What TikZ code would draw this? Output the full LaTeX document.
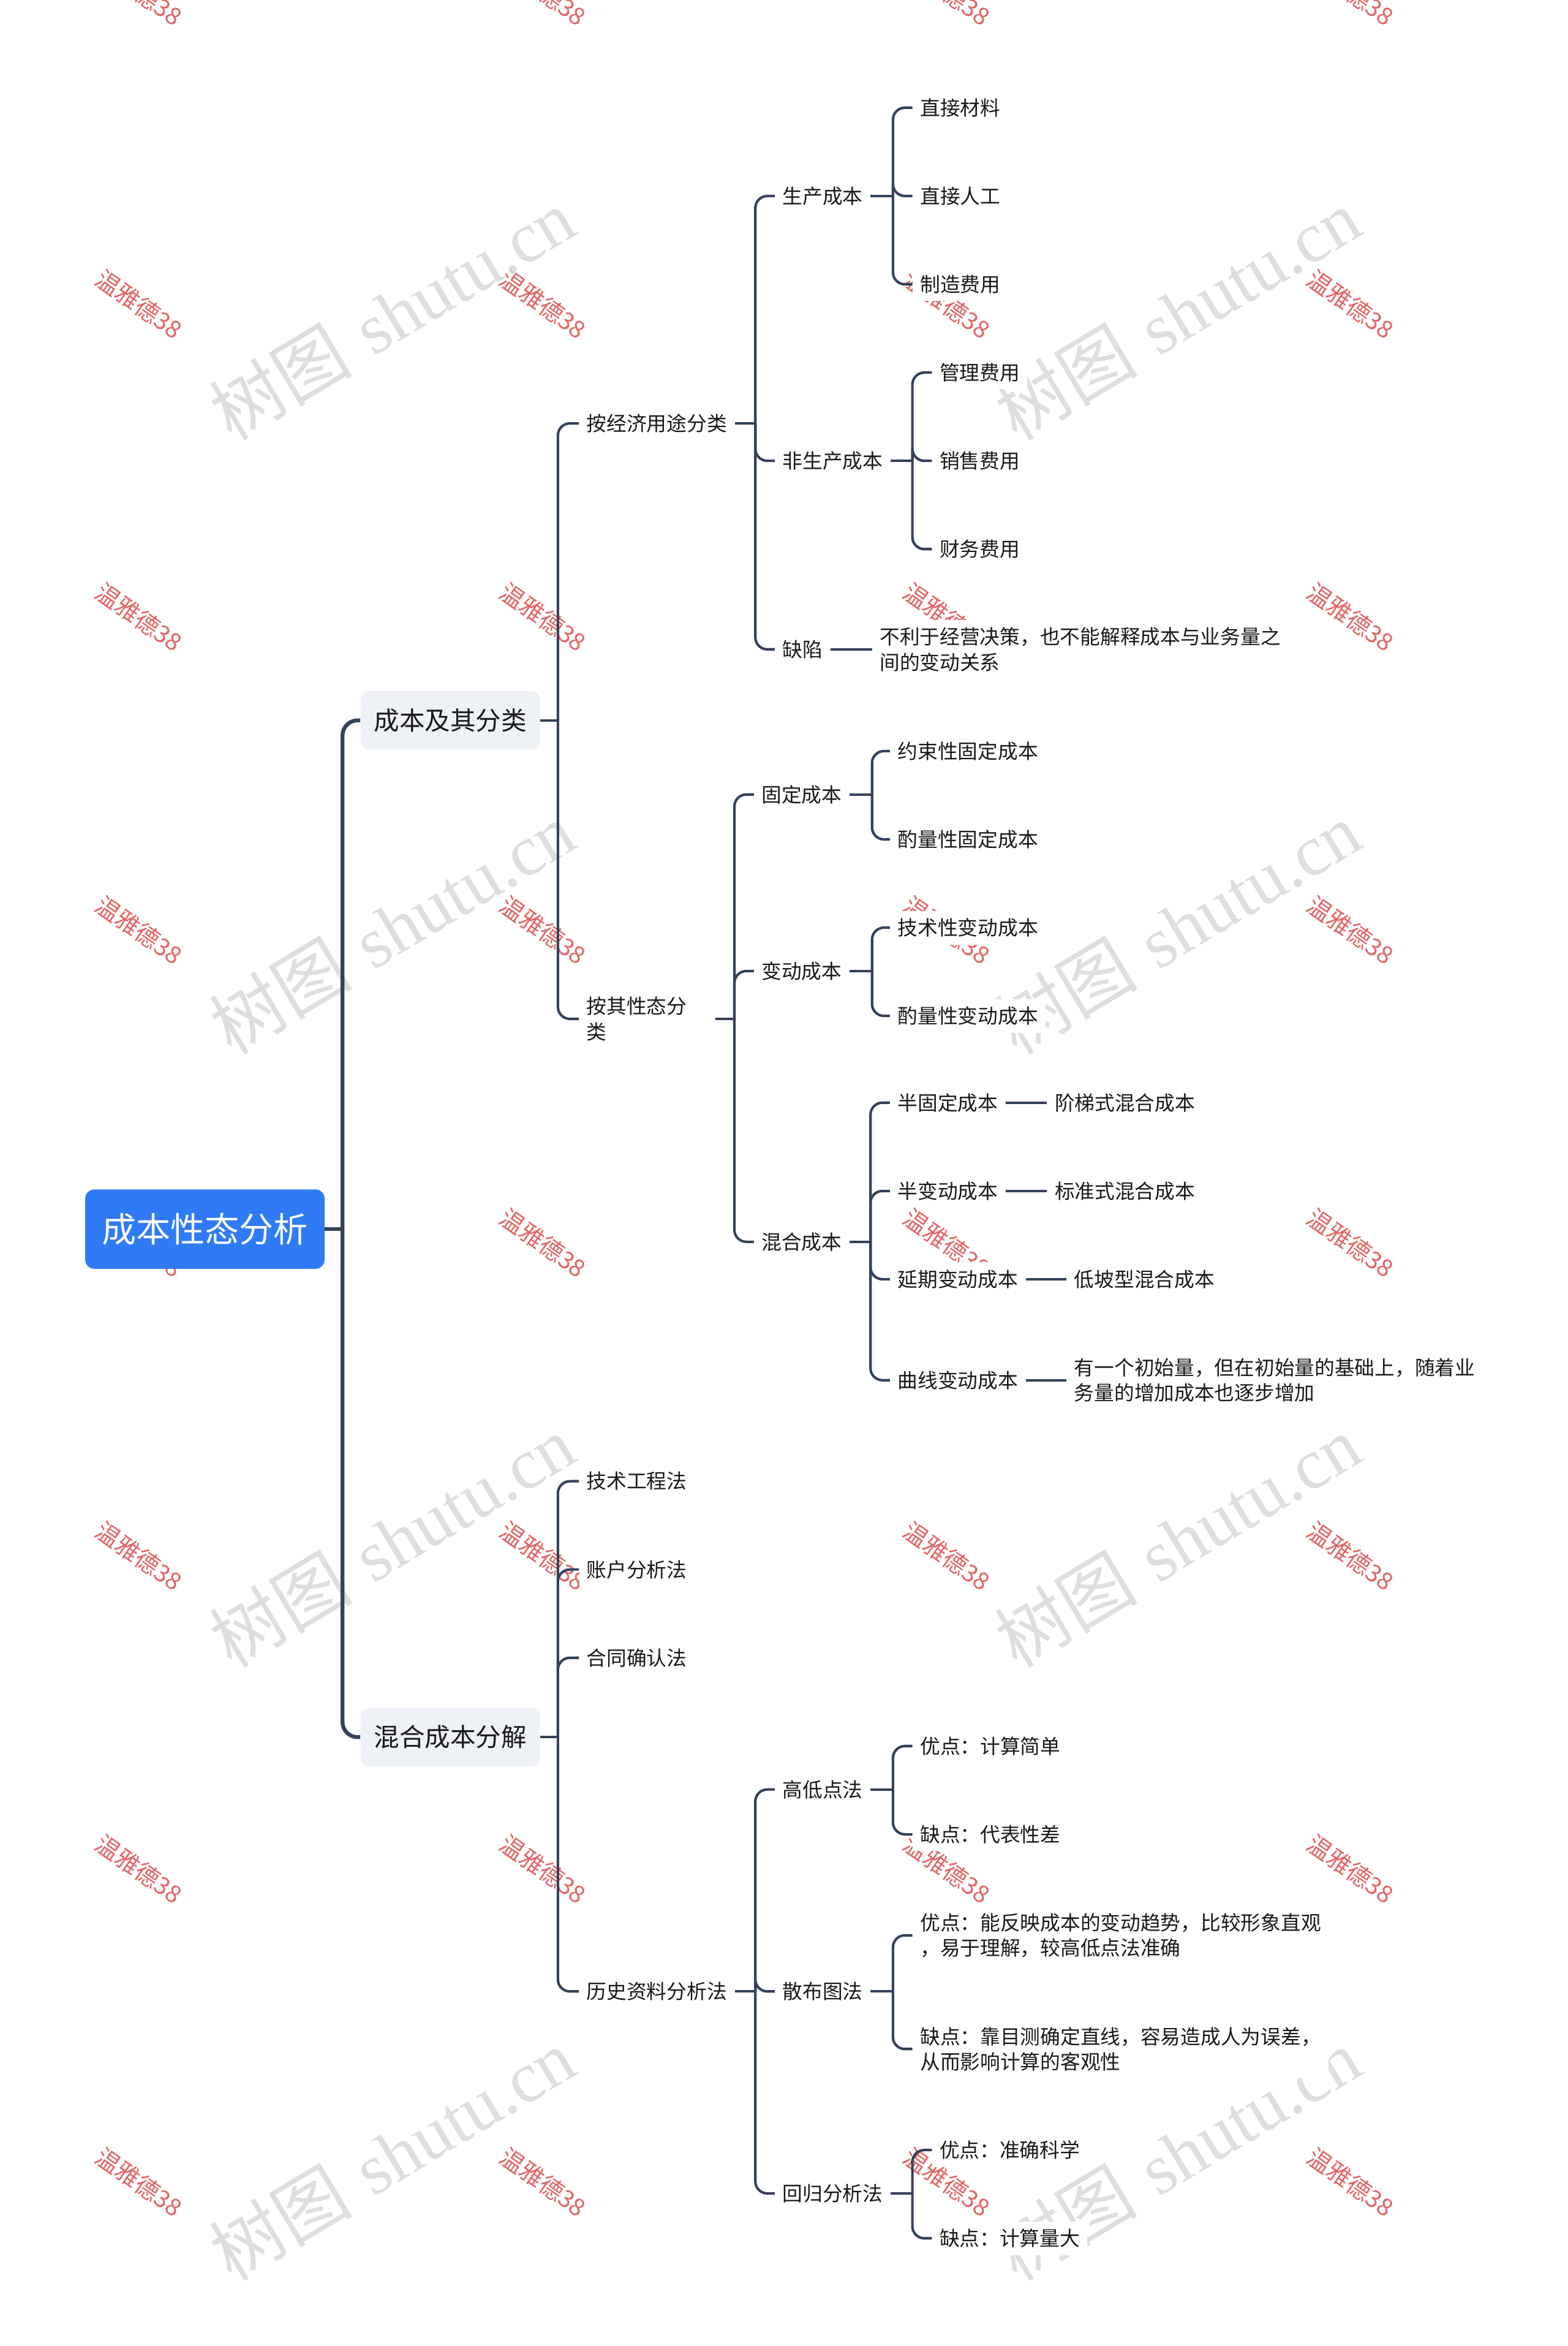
\documentclass[tikz,border=0pt]{standalone}
\usepackage{fontspec}
\newfontfamily\cjk{Noto Sans CJK SC}
\newfontfamily\wmserif{Liberation Serif}
\definecolor{rootblue}{HTML}{2F7BF5}
\definecolor{lncol}{HTML}{34425A}
\definecolor{lonefill}{HTML}{EEF1F5}
\definecolor{wmred}{HTML}{DD4B4B}
\definecolor{wmgray}{HTML}{D9D9D9}
\begin{document}
\begin{tikzpicture}[x=1pt,y=-1pt,
  tnode/.style={font=\cjk\fontsize{13.4}{17}\selectfont, fill=white, inner xsep=5pt, inner ysep=5pt, anchor=west, align=left, text=black!90},
  lone/.style={font=\cjk\fontsize{17}{20}\selectfont, fill=lonefill, rounded corners=6pt, minimum width=120pt, minimum height=39pt, inner sep=0pt, text=black!90},
  rootnode/.style={font=\cjk\fontsize{23}{26}\selectfont, fill=rootblue, rounded corners=6pt, minimum width=160pt, minimum height=53pt, inner sep=0pt, text=white},
  ln/.style={draw=lncol, line width=1.7pt, rounded corners=8pt},
  rootln/.style={draw=lncol, line width=2.6pt, rounded corners=10pt},
  redwm/.style={font=\cjk\fontsize{16}{16}\selectfont, text=wmred, rotate=-35, opacity=0.85},
  graywm/.style={font=\fontsize{48}{48}\selectfont, text=wmgray, rotate=31, opacity=0.85}
]
\useasboundingbox (0,0) rectangle (1048,1568);
\fill[white] (0,0) rectangle (1048,1568);

% watermarks
\foreach \c in {93,363,633,903} {
  \foreach \r in {0,...,7} {
    \node[redwm] (wmr-\c-\r) at (\c, {-6+209.2*\r}) {温雅德38};
  }
}
\foreach \c in {262,787} {
  \foreach \r in {0,...,3} {
    \node[graywm] (wmg-\c-\r) at (\c, {210+410*\r}) {{\cjk 树图} {\wmserif shutu.cn}};
  }
}

% root and level 1
\node[rootnode] (root) at (137,821.5) {成本性态分析};
\node[lone] (La) at (301,481.5) {成本及其分类};
\node[lone] (Lb) at (301,1161) {混合成本分解};

% level 2 under La
\node[tnode] (n1) at (387,283) {按经济用途分类};
\node[tnode, text width=81pt] (n2) at (387,681) {按其性态分\\类};

% under n1
\node[tnode] (n11) at (518,131) {生产成本};
\node[tnode] (n12) at (518,308) {非生产成本};
\node[tnode] (n13) at (518,434) {缺陷};
\node[tnode] (n111) at (610,72) {直接材料};
\node[tnode] (n112) at (610,131) {直接人工};
\node[tnode] (n113) at (610,190) {制造费用};
\node[tnode] (n121) at (623,249) {管理费用};
\node[tnode] (n122) at (623,308) {销售费用};
\node[tnode] (n123) at (623,367) {财务费用};
\node[tnode] (n131) at (583,434) {不利于经营决策，也不能解释成本与业务量之\\间的变动关系};

% under n2
\node[tnode] (n21) at (504,531) {固定成本};
\node[tnode] (n22) at (504,649) {变动成本};
\node[tnode] (n23) at (504,830) {混合成本};
\node[tnode] (n211) at (595,502) {约束性固定成本};
\node[tnode] (n212) at (595,561) {酌量性固定成本};
\node[tnode] (n221) at (595,620) {技术性变动成本};
\node[tnode] (n222) at (595,679) {酌量性变动成本};
\node[tnode] (n231) at (595,737) {半固定成本};
\node[tnode] (n232) at (595,796) {半变动成本};
\node[tnode] (n233) at (595,855) {延期变动成本};
\node[tnode] (n234) at (595,922.5) {曲线变动成本};
\node[tnode] (n2311) at (700,737) {阶梯式混合成本};
\node[tnode] (n2321) at (700,796) {标准式混合成本};
\node[tnode] (n2331) at (713,855) {低坡型混合成本};
\node[tnode] (n2341) at (713,922.5) {有一个初始量，但在初始量的基础上，随着业\\务量的增加成本也逐步增加};

% under Lb
\node[tnode] (m1) at (387,990) {技术工程法};
\node[tnode] (m2) at (387,1049) {账户分析法};
\node[tnode] (m3) at (387,1108) {合同确认法};
\node[tnode] (m4) at (387,1331) {历史资料分析法};
\node[tnode] (m41) at (518,1196) {高低点法};
\node[tnode] (m42) at (518,1331) {散布图法};
\node[tnode] (m43) at (518,1466) {回归分析法};
\node[tnode] (m411) at (610,1167) {优点：计算简单};
\node[tnode] (m412) at (610,1226) {缺点：代表性差};
\node[tnode] (m421) at (610,1293.5) {优点：能反映成本的变动趋势，比较形象直观\\，易于理解，较高低点法准确};
\node[tnode] (m422) at (610,1369.5) {缺点：靠目测确定直线，容易造成人为误差，\\从而影响计算的客观性};
\node[tnode] (m431) at (623,1437) {优点：准确科学};
\node[tnode] (m432) at (623,1496) {缺点：计算量大};

% connectors
\coordinate (broot) at (229,821.5);
\draw[rootln] (root.east) -- (broot);
\foreach \k in {La,Lb} \draw[rootln] (broot) |- (\k.west);

\coordinate (bLa) at (373,481.5);
\draw[ln] (La.east) -- (bLa);
\foreach \k in {n1,n2} \draw[ln] (bLa) |- (\k.west);

\coordinate (bn1) at (505,283);
\draw[ln] (n1.east) -- (bn1);
\foreach \k in {n11,n12,n13} \draw[ln] (bn1) |- (\k.west);

\coordinate (bn11) at (597,131);
\draw[ln] (n11.east) -- (bn11);
\foreach \k in {n111,n112,n113} \draw[ln] (bn11) |- (\k.west);

\coordinate (bn12) at (610,308);
\draw[ln] (n12.east) -- (bn12);
\foreach \k in {n121,n122,n123} \draw[ln] (bn12) |- (\k.west);

\draw[ln] (n13.east) -- (n131.west);

\coordinate (bn2) at (491,681);
\draw[ln] (n2.east) -- (bn2);
\foreach \k in {n21,n22,n23} \draw[ln] (bn2) |- (\k.west);

\coordinate (bn21) at (583,531);
\draw[ln] (n21.east) -- (bn21);
\foreach \k in {n211,n212} \draw[ln] (bn21) |- (\k.west);

\coordinate (bn22) at (583,649);
\draw[ln] (n22.east) -- (bn22);
\foreach \k in {n221,n222} \draw[ln] (bn22) |- (\k.west);

\coordinate (bn23) at (582,830);
\draw[ln] (n23.east) -- (bn23);
\foreach \k in {n231,n232,n233,n234} \draw[ln] (bn23) |- (\k.west);

\draw[ln] (n231.east) -- (n2311.west);
\draw[ln] (n232.east) -- (n2321.west);
\draw[ln] (n233.east) -- (n2331.west);
\draw[ln] (n234.east) -- (n2341.west);

\coordinate (bLb) at (373,1161);
\draw[ln] (Lb.east) -- (bLb);
\foreach \k in {m1,m2,m3,m4} \draw[ln] (bLb) |- (\k.west);

\coordinate (bm4) at (505,1331);
\draw[ln] (m4.east) -- (bm4);
\foreach \k in {m41,m42,m43} \draw[ln] (bm4) |- (\k.west);

\coordinate (bm41) at (597,1196);
\draw[ln] (m41.east) -- (bm41);
\foreach \k in {m411,m412} \draw[ln] (bm41) |- (\k.west);

\coordinate (bm42) at (597,1331);
\draw[ln] (m42.east) -- (bm42);
\foreach \k in {m421,m422} \draw[ln] (bm42) |- (\k.west);

\coordinate (bm43) at (610,1466);
\draw[ln] (m43.east) -- (bm43);
\foreach \k in {m431,m432} \draw[ln] (bm43) |- (\k.west);
\end{tikzpicture}
\end{document}
